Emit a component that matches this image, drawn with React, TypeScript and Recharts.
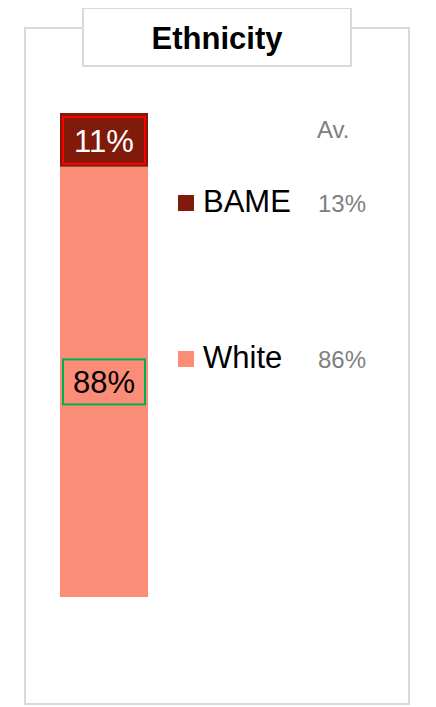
import { BarChart, Bar, XAxis, YAxis, LabelList } from 'recharts';

const categories = ['Ethnicity'];
const groups = ['BAME', 'White'];
const shares = [11, 88];
const averages = [13, 86];
const avLabel = 'Av.';

const COLORS: Record<string, string> = {
  BAME: '#801a0a',
  White: '#fb8c78',
};

const FONT = '"Liberation Sans", Arial, sans-serif';

const data = categories.map((name) => {
  const row: Record<string, string | number> = { name };
  groups.forEach((g, i) => {
    row[g] = shares[i];
  });
  return row;
});

// label box drawn inside each stacked segment
const makeLabel = (group: string) => (props: any) => {
  const { x, y, width, height, value } = props;
  const isTop = group === 'BAME';
  const boxH = isTop ? height - 7 : 45;
  const boxY = isTop ? y + 4 : y + height / 2 - boxH / 2;
  return (
    <g>
      <rect
        x={x + 3}
        y={boxY}
        width={width - 6}
        height={boxH}
        fill="none"
        stroke={isTop ? '#ff0000' : '#00b050'}
        strokeWidth={2}
      />
      <text
        x={x + width / 2}
        y={boxY + boxH / 2 + 11.5}
        textAnchor="middle"
        fontSize={31}
        fontFamily={FONT}
        fill={isTop ? '#ffffff' : '#000000'}
      >
        {value}%
      </text>
    </g>
  );
};

const legendY = [212, 368];

export default function App() {
  return (
    <div
      style={{
        position: 'relative',
        width: 436,
        height: 707,
        margin: '-8px 0 0 -8px',
        background: '#fff',
        fontFamily: FONT,
      }}
    >
      {/* outer frame */}
      <div
        style={{
          position: 'absolute',
          left: 24,
          top: 27,
          width: 382,
          height: 674,
          border: '2px solid #d9d9d9',
        }}
      />
      <div style={{ position: 'absolute', left: 0, top: 0 }}>
        <BarChart
          width={436}
          height={707}
          data={data}
          margin={{ top: 113, bottom: 110, left: 60, right: 288 }}
          barCategoryGap={0}
        >
          <XAxis dataKey="name" hide />
          <YAxis hide domain={[0, 'dataMax']} />
          {[...groups].reverse().map((g) => (
            <Bar
              key={g}
              dataKey={g}
              stackId="a"
              fill={COLORS[g]}
              isAnimationActive={false}
            >
              <LabelList dataKey={g} content={makeLabel(g)} />
            </Bar>
          ))}
        </BarChart>
      </div>
      {/* title box */}
      <div
        style={{
          position: 'absolute',
          left: 82,
          top: 7,
          width: 266,
          height: 56,
          border: '2px solid #d9d9d9',
          background: '#fff',
          textAlign: 'center',
          fontWeight: 'bold',
          fontSize: 31,
          lineHeight: '60px',
          color: '#000',
        }}
      >
        {categories[0]}
      </div>
      {/* legend with averages */}
      <svg
        width={436}
        height={707}
        style={{ position: 'absolute', left: 0, top: 0, pointerEvents: 'none' }}
      >
        <text x={317} y={138} fontSize={24} fontFamily={FONT} fill="#808080">
          {avLabel}
        </text>
        {groups.map((g, i) => (
          <g key={g}>
            <rect x={178} y={legendY[i] - 17} width={16} height={16} fill={COLORS[g]} />
            <text x={203} y={legendY[i]} fontSize={31} fontFamily={FONT} fill="#000">
              {g}
            </text>
            <text x={318} y={legendY[i]} fontSize={24} fontFamily={FONT} fill="#808080">
              {averages[i]}%
            </text>
          </g>
        ))}
      </svg>
    </div>
  );
}
